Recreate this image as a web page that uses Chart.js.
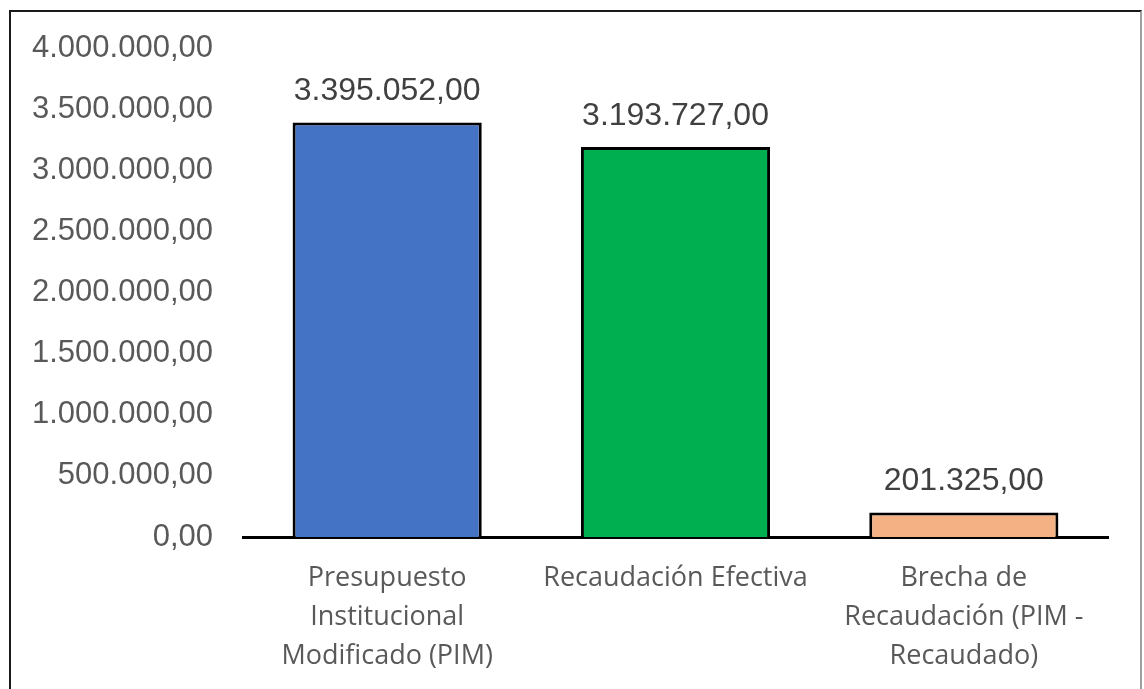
<!DOCTYPE html>
<html>
<head>
<meta charset="utf-8">
<script src="https://cdn.jsdelivr.net/npm/chart.js@4"></script>
<style>
    html, body { margin: 0; padding: 0; background: #fff; overflow: hidden; }
    #marco {
        position: absolute; left: 9px; top: 10px; width: 1129px; height: 700px;
        border-top: 2px solid #1a1a1a; border-left: 2px solid #1a1a1a; border-right: 2px solid #a0a0a0;
    }
    #lienzo { position: absolute; left: 0; top: 0; }
</style>
</head>
<body>
<div id="marco"></div>
<canvas id="lienzo" width="1144" height="689"></canvas>
<script>
const categorias = [
    ["Presupuesto", "Institucional", "Modificado (PIM)"],
    ["Recaudación Efectiva"],
    ["Brecha de", "Recaudación (PIM -", "Recaudado)"]
];
const valores = [3395052, 3193727, 201325];
const colores = ["#4472C4", "#00B050", "#F4B183"];
const ejeMin = 0;
const ejeMax = 4000000;
const ejePaso = 500000;

function formatear(n) {
    const partes = n.toFixed(2).split(".");
    const entero = partes[0].replace(/\B(?=(\d{3})+(?!\d))/g, ".");
    return entero + "," + partes[1];
}

// etiquetas de valor encima de cada barra
const etiquetasBarras = {
    id: "etiquetasBarras",
    afterDatasetsDraw(chart) {
        const ctx = chart.ctx;
        const meta = chart.getDatasetMeta(0);
        ctx.save();
        ctx.font = "32px 'Liberation Sans', Arial, sans-serif";
        ctx.fillStyle = "#404040";
        ctx.textAlign = "center";
        ctx.textBaseline = "middle";
        meta.data.forEach((barra, i) => {
            ctx.fillText(formatear(valores[i]), barra.x, barra.y - 31);
        });
        ctx.restore();
    }
};

new Chart(document.getElementById("lienzo"), {
    type: "bar",
    data: {
        labels: categorias,
        datasets: [{
            data: valores,
            backgroundColor: colores,
            borderColor: "#000",
            borderWidth: 3,
            borderSkipped: "bottom",
            categoryPercentage: 1,
            barPercentage: 0.656
        }]
    },
    options: {
        responsive: false,
        animation: false,
        layout: { padding: { top: 47, right: 36, left: 11, bottom: 0 } },
        plugins: {
            legend: { display: false },
            tooltip: { enabled: false }
        },
        scales: {
            y: {
                min: ejeMin,
                max: ejeMax,
                afterFit: s => { s.width = 232; },
                grid: { display: false, drawTicks: false },
                border: { display: false },
                ticks: {
                    stepSize: ejePaso,
                    padding: 30,
                    color: "#595959",
                    font: { family: "'Liberation Sans', Arial, sans-serif", size: 31 },
                    callback: v => formatear(v)
                }
            },
            x: {
                afterFit: s => { s.height = 152; },
                grid: { display: false, drawTicks: false },
                border: { display: true, color: "#000", width: 3 },
                ticks: {
                    padding: 22,
                    maxRotation: 0,
                    autoSkip: false,
                    color: "#595959",
                    font: { family: "'Open Sans', sans-serif", size: 27, lineHeight: 1.44 }
                }
            }
        }
    },
    plugins: [etiquetasBarras]
});
</script>
</body>
</html>
